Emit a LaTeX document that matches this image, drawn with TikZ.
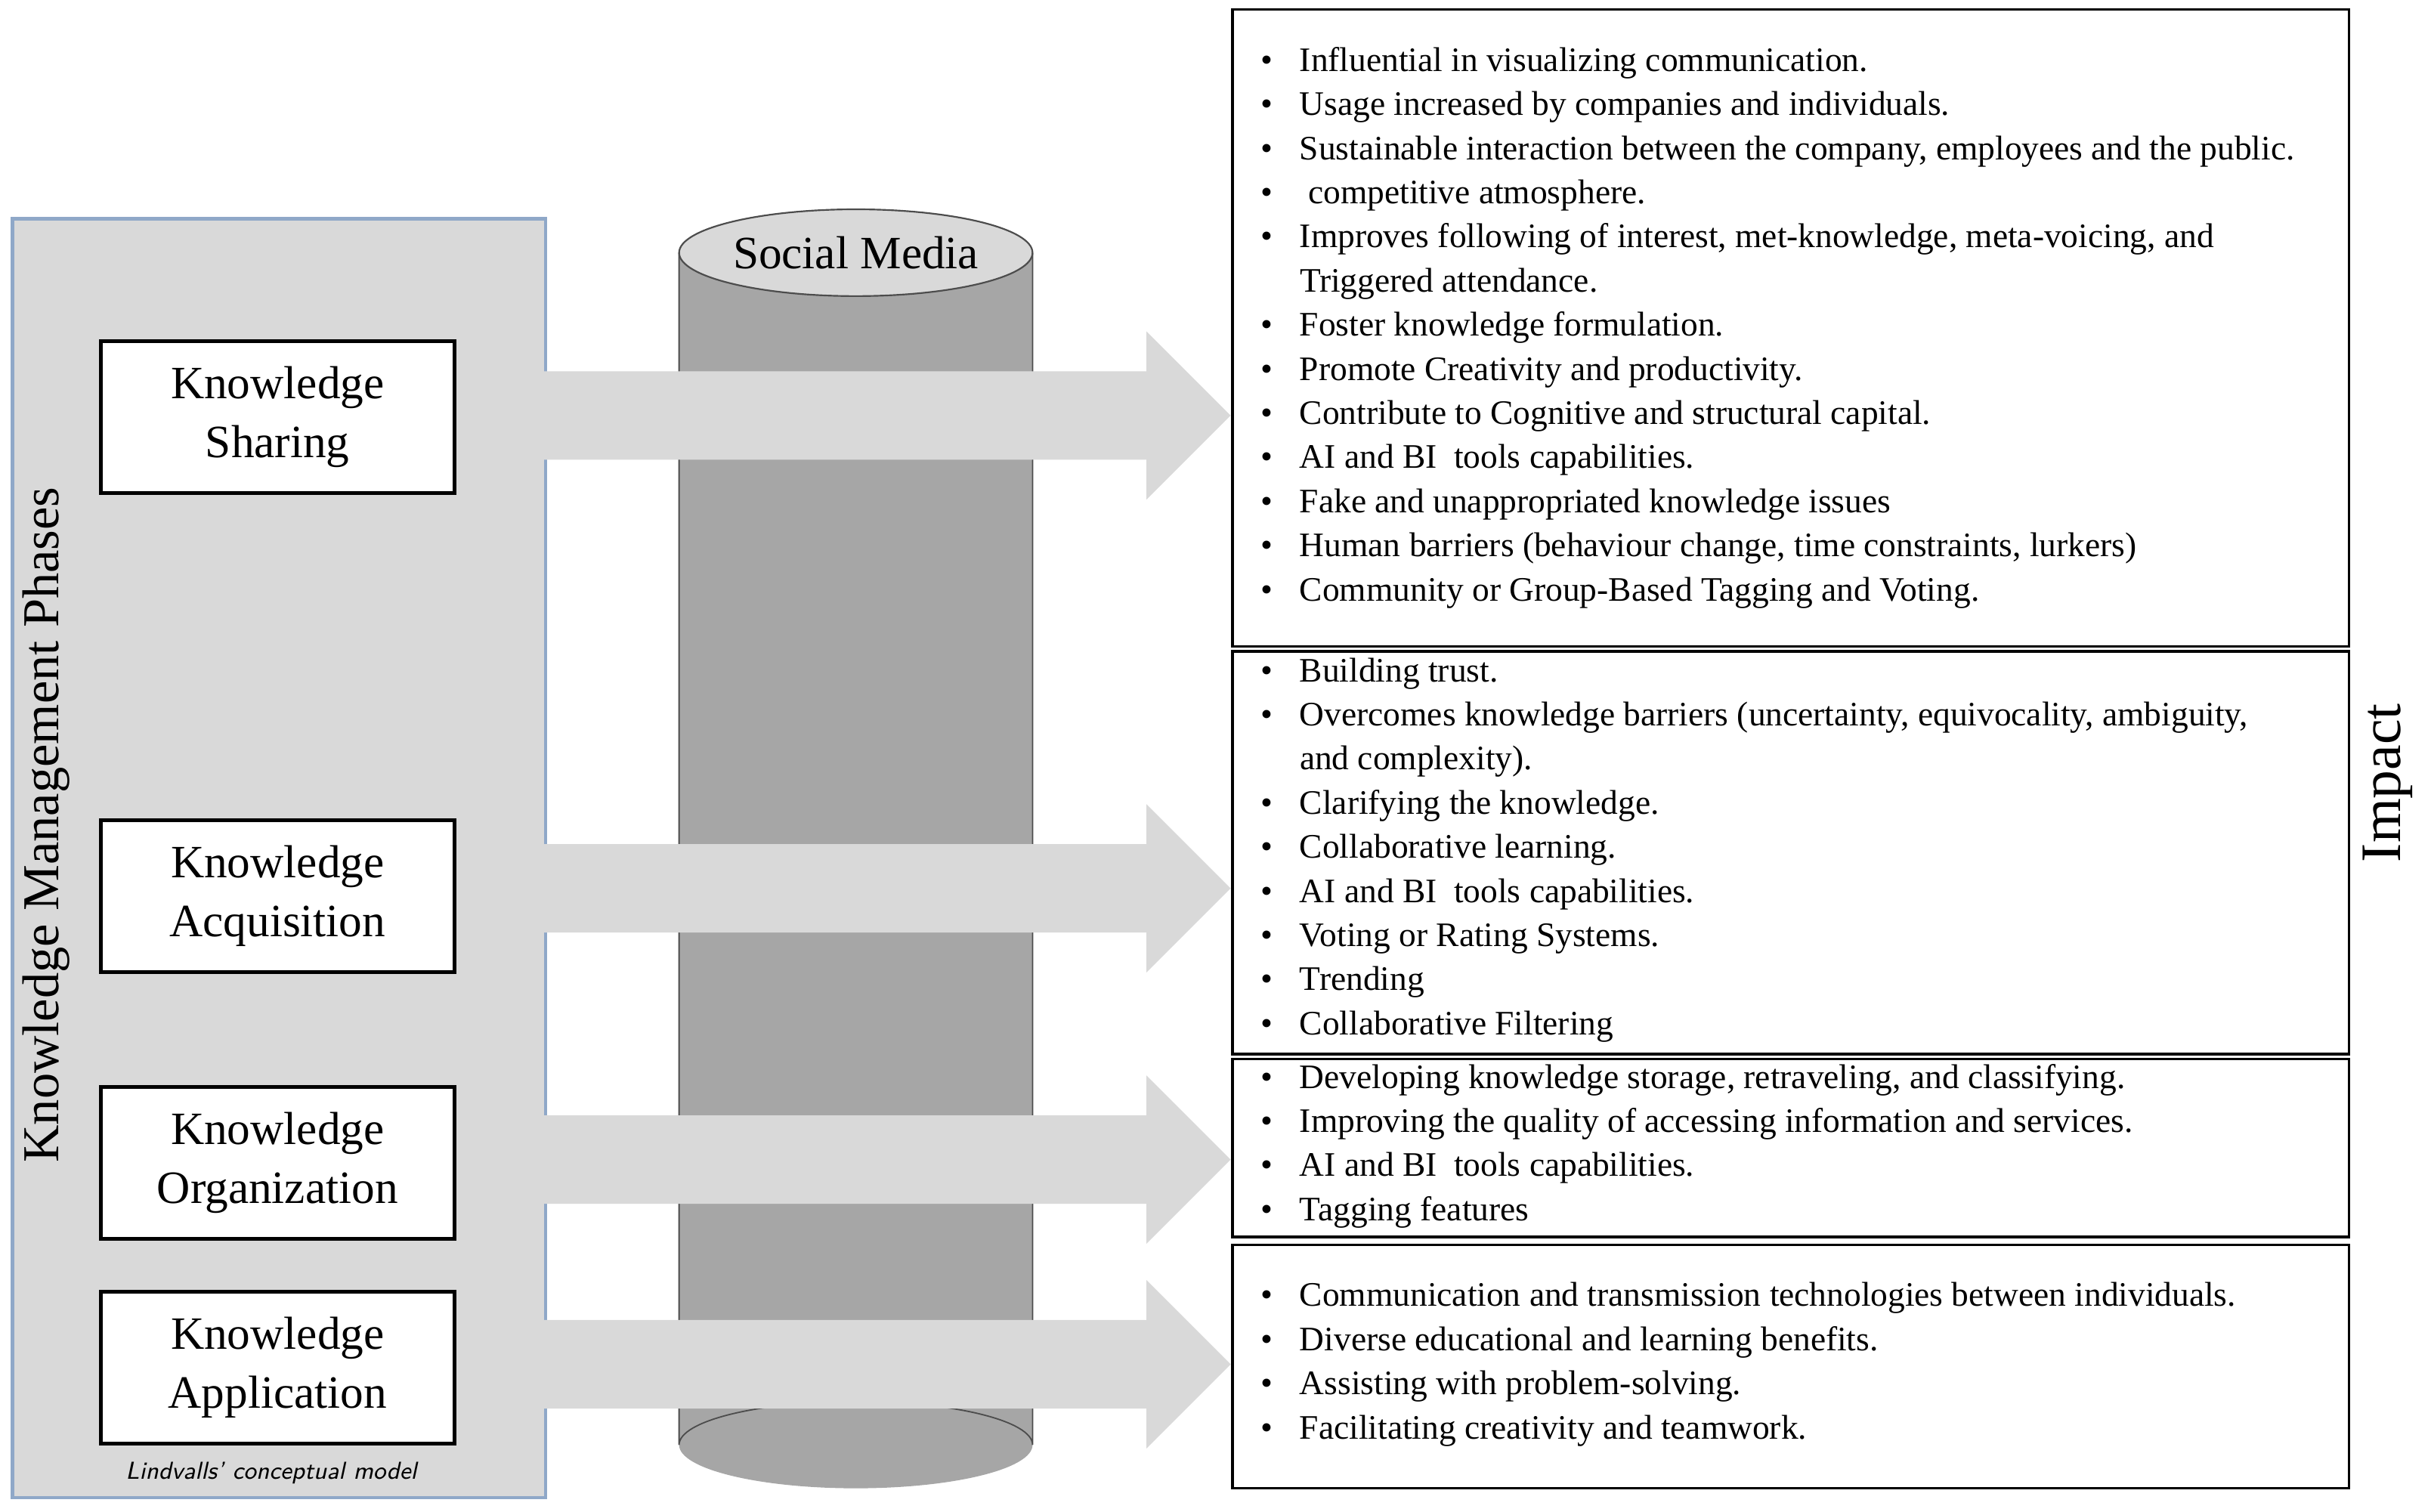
\documentclass[tikz,border=0pt]{standalone}
\usepackage{fontspec}
\setmainfont{Liberation Serif}
\usetikzlibrary{shapes.geometric}
\definecolor{lg}{HTML}{D9D9D9}
\definecolor{mg}{HTML}{A6A6A6}
\definecolor{bb}{HTML}{8FA8C8}
\newcommand\bl[1]{\makebox[0.5cm][l]{\textbullet}#1\\}
\newcommand\cl[1]{\hspace*{0.5cm}#1\\}
\tikzset{
 kbox/.style={draw=black,line width=1.4pt,fill=white,minimum width=4.56cm,minimum height=1.96cm,align=center,font=\fontsize{17}{21.5}\selectfont},
 rbox/.style={draw=black,line width=1pt},
 arr/.style={fill=lg,draw=gray!30,line width=0.6pt},
 lst/.style={anchor=north west,align=left,inner sep=0pt,font=\fontsize{12.6}{16.2}\selectfont}
}
\begin{document}
\begin{tikzpicture}[x=0.02cm,y=-0.02cm]
\useasboundingbox (0,0) rectangle (1568,975);
% left panel
\node[draw=bb,line width=1.2pt,fill=lg,minimum width=6.88cm,minimum height=16.5cm,anchor=north west,inner sep=0] (panel) at (7,140) {};
\node[rotate=90,font=\fontsize{19}{22}\selectfont] (kmp) at (30,532) {Knowledge Management Phases};
\node[font=\sffamily\itshape\fontsize{9}{10}\selectfont] (lind) at (175,950) {Lindvalls' conceptual model};
% cylinder
\fill[mg] (438,163) rectangle (666,932);
\fill[mg] (552,932) ellipse (114 and 28);
\draw[gray!60!black,line width=0.5pt] (438,163) -- (438,932) arc[start angle=180,end angle=360,x radius=114,y radius=28] -- (666,163);
\node[ellipse,fill=lg,draw=gray!60!black,line width=0.6pt,minimum width=4.56cm,minimum height=1.12cm,inner sep=0,font=\fontsize{17}{20}\selectfont] (sm) at (552,163) {Social Media};
% right boxes
\draw[rbox] (795,6) rectangle (1515,417);
\draw[rbox] (795,420) rectangle (1515,680);
\draw[rbox] (795,683) rectangle (1515,798);
\draw[rbox] (795,803) rectangle (1515,960);
\node[rotate=90,font=\fontsize{21}{24}\selectfont] (imp) at (1540,505) {Impact};
% arrows
\foreach \c in {268,573,748,880}{
 \draw[arr] (293,\c-28) -- (740,\c-28) -- (740,\c-53) -- (793,\c) -- (740,\c+53) -- (740,\c+28) -- (293,\c+28) -- cycle;
}
% knowledge boxes
\node[kbox] (ks) at (179,269) {Knowledge\\Sharing};
\node[kbox] (ka) at (179,578) {Knowledge\\Acquisition};
\node[kbox] (ko) at (179,750) {Knowledge\\Organization};
\node[kbox] (kap) at (179,882) {Knowledge\\Application};
% lists
\node[lst] (l1) at (813,30) {%
\bl{Influential in visualizing communication.}
\bl{Usage increased by companies and individuals.}
\bl{Sustainable interaction between the company, employees and the public.}
\bl{\ competitive atmosphere.}
\bl{Improves following of interest, met-knowledge, meta-voicing, and}
\cl{Triggered attendance.}
\bl{Foster knowledge formulation.}
\bl{Promote Creativity and productivity.}
\bl{Contribute to Cognitive and structural capital.}
\bl{AI and BI\ \ tools capabilities.}
\bl{Fake and unappropriated knowledge issues}
\bl{Human barriers (behaviour change, time constraints, lurkers)}
\bl{Community or Group-Based Tagging and Voting.}};
\node[lst] (l2) at (813,424) {%
\bl{Building trust.}
\bl{Overcomes knowledge barriers (uncertainty, equivocality, ambiguity,}
\cl{and complexity).}
\bl{Clarifying the knowledge.}
\bl{Collaborative learning.}
\bl{AI and BI\ \ tools capabilities.}
\bl{Voting or Rating Systems.}
\bl{Trending}
\bl{Collaborative Filtering}};
\node[lst] (l3) at (813,686) {%
\bl{Developing knowledge storage, retraveling, and classifying.}
\bl{Improving the quality of accessing information and services.}
\bl{AI and BI\ \ tools capabilities.}
\bl{Tagging features}};
\node[lst] (l4) at (813,827) {%
\bl{Communication and transmission technologies between individuals.}
\bl{Diverse educational and learning benefits.}
\bl{Assisting with problem-solving.}
\bl{Facilitating creativity and teamwork.}};
\end{tikzpicture}
\end{document}
